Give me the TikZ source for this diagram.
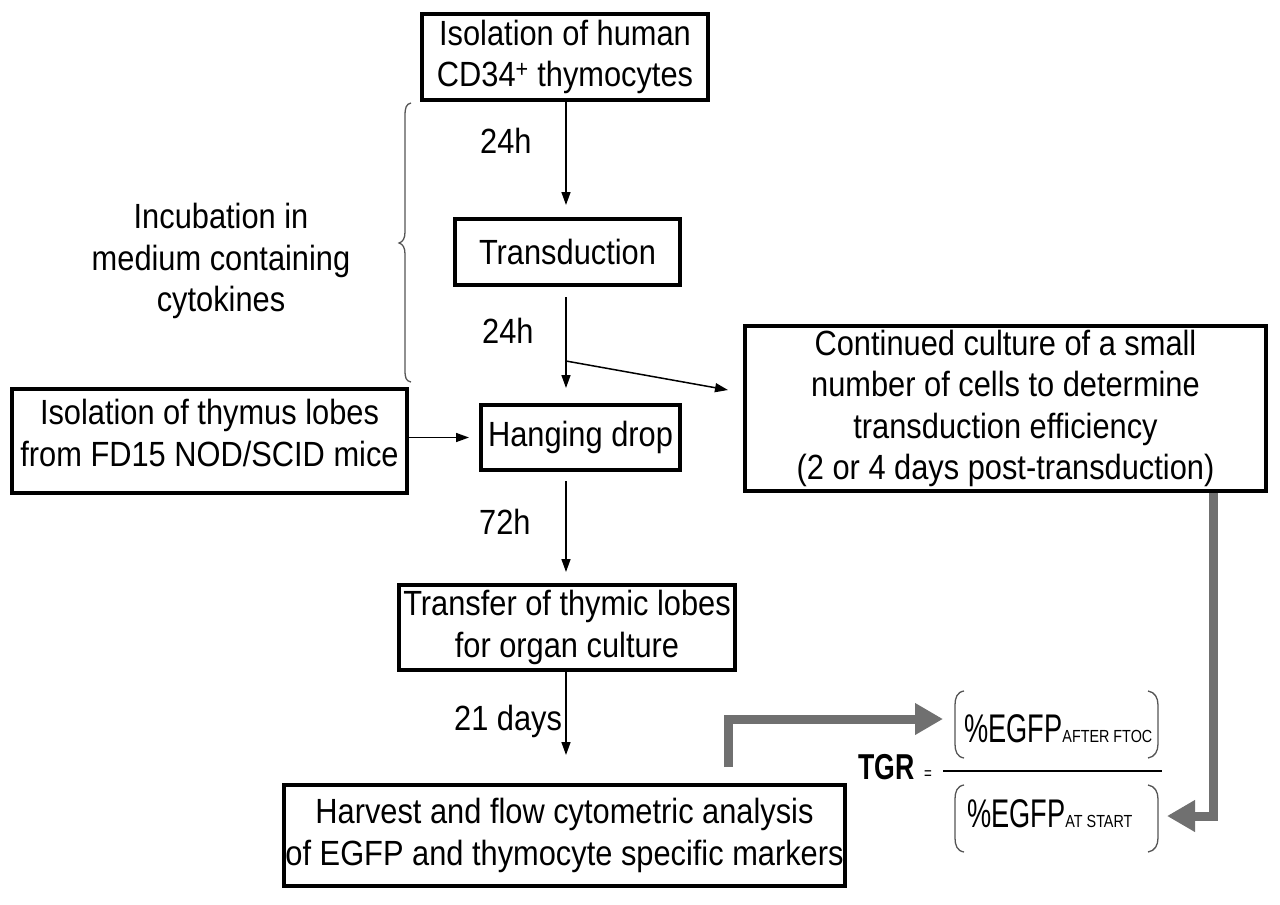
\documentclass[tikz,border=0pt]{standalone}
\usepackage{fontspec}
\setmainfont[FakeStretch=0.88]{Liberation Sans}
\newfontfamily\cnfont[FakeStretch=0.74]{Liberation Sans}
\newfontfamily\fracfont[FakeStretch=0.68]{Liberation Sans}
\newfontfamily\subfont[FakeStretch=0.82]{Liberation Sans}
\usetikzlibrary{arrows.meta,calc}
\definecolor{garr}{RGB}{112,112,112}
\definecolor{bracecol}{RGB}{85,85,85}
\begin{document}
\begin{tikzpicture}[x=1pt,y=-1pt,
  box/.style={draw,line width=4pt,inner sep=0pt,align=center,font=\fontsize{35}{41.5}\selectfont},
  lbl/.style={inner sep=0pt,align=center,font=\fontsize{35}{41.5}\selectfont},
  conn/.style={line width=1.5pt,-{Triangle[length=13pt,width=9pt]}},
  garrow/.style={line width=9pt,draw=garr,-{Triangle[length=28pt,width=30pt]},color=garr},
  paren/.style={line width=1.3pt,draw=bracecol},
  frac/.style={inner sep=0pt,anchor=base west,font=\fracfont\fontsize{40}{40}\selectfont},
  sub/.style={font=\subfont\fontsize{17.5}{17.5}\selectfont}
]
\useasboundingbox (0,0) rectangle (1280,905);

% boxes
\node[box,minimum width=286pt,minimum height=86pt] (top) at (565,57) {Isolation of human\\CD34\textsuperscript{+} thymocytes};
\node[box,minimum width=225pt,minimum height=66pt] (trans) at (567.5,252) {Transduction};
\node[box,minimum width=199pt,minimum height=65pt] (hang) at (580.5,437.5) {Hanging drop};
\node[box,minimum width=395pt,minimum height=104pt] (left) at (209.5,441) {};
\node[lbl] (lefttext) at (209.5,433) {Isolation of thymus lobes\\from FD15 NOD/SCID mice};
\node[box,minimum width=521pt,minimum height=165pt] (rbox) at (1005.5,408.5) {Continued culture of a small\\number of cells to determine\\transduction efficiency\\(2 or 4 days post-transduction)};
\node[box,minimum width=336pt,minimum height=85pt] (transfer) at (567,627.5) {Transfer of thymic lobes\\for organ culture};
\node[box,minimum width=561pt,minimum height=101pt] (bottom) at (564.5,835.5) {Harvest and flow cytometric analysis\\of EGFP and thymocyte specific markers};

% labels
\node[lbl,anchor=base west] (l1) at (480,153) {24h};
\node[lbl,anchor=base west] (l2) at (482,343) {24h};
\node[lbl,anchor=base west] (l3) at (479,534) {72h};
\node[lbl,anchor=base west] (l4) at (454,730) {21 days};
\node[lbl] (incub) at (221,261) {Incubation in\\medium containing\\cytokines};

% brace
\draw[bracecol,line width=1.3pt] (411,103) .. controls (406,104) and (405,108) .. (405,116) -- (405,232)
  .. controls (405,238) and (403,242) .. (399,243) .. controls (403,244) and (405,248) .. (405,254)
  -- (405,370) .. controls (405,378) and (406,381) .. (411,382);

% black connectors
\coordinate (ax) at (566,0);
\draw[conn,shorten >=12pt] (top.south -| ax) -- (trans.north -| ax);
\draw[conn,shorten <=10pt,shorten >=15pt] (trans.south -| ax) -- (hang.north -| ax);
\coordinate (br) at (566,361);
\coordinate (brend) at (728,390);
\draw[conn] (br) -- (brend);
\draw[conn,shorten >=10pt] (left.east |- hang.west) -- (hang.west);
\draw[conn,shorten <=9pt,shorten >=11pt] (hang.south -| ax) -- (transfer.north -| ax);
\draw[conn,shorten >=28pt] (transfer.south -| ax) -- (bottom.north -| ax);

% formula
\node[inner sep=0pt,anchor=base west,font=\cnfont\bfseries\fontsize{36}{36}\selectfont] (tgr) at (858,779) {TGR};
\node[inner sep=0pt,anchor=base west,font=\cnfont\fontsize{18}{18}\selectfont] (eq) at (924,779) {=};
\draw[line width=2.5pt] (943,771) -- (1162,771);
\node[frac] (num) at (964,742) {\%EGFP{\subfont\fontsize{17.5}{17.5}\selectfont AFTER FTOC}};
\node[frac] (den) at (967,827) {\%EGFP{\subfont\fontsize{17.5}{17.5}\selectfont AT START}};
% parentheses
\draw[paren] (964,691) .. controls (957,692) and (955,698) .. (955,705) -- (955,744) .. controls (955,751) and (957,757) .. (964,758);
\draw[paren] (1148,691) .. controls (1155,692) and (1158,698) .. (1158,705) -- (1158,744) .. controls (1158,751) and (1155,757) .. (1148,758);
\draw[paren] (964,785) .. controls (957,786) and (955,792) .. (955,799) -- (955,838) .. controls (955,845) and (957,851) .. (964,852);
\draw[paren] (1148,785) .. controls (1155,786) and (1158,792) .. (1158,799) -- (1158,838) .. controls (1158,845) and (1155,851) .. (1148,852);

% gray arrows
\coordinate (g1) at (728,767);
\coordinate (g1e) at (943,719);
\draw[garrow] (g1) |- (g1e);
\coordinate (g2x) at (1213,0);
\coordinate (g2e) at (1167,816);
\draw[garrow] (rbox.south -| g2x) |- (g2e);
\end{tikzpicture}
\end{document}
